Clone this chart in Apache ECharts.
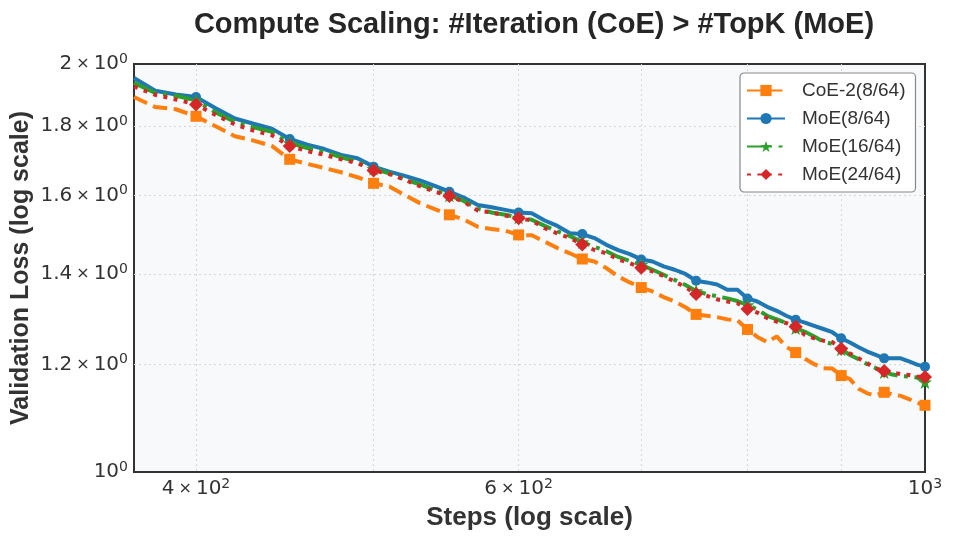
<!DOCTYPE html>
<html>
<head>
<meta charset="utf-8">
<script src="https://cdn.jsdelivr.net/npm/echarts@6.0.0/dist/echarts.min.js"></script>
<style>
html,body{margin:0;padding:0;background:#ffffff;}
#chart{width:953px;height:543px;}
</style>
</head>
<body>
<div id="chart"></div>
<script>
const steps = [370,380,390,400,410,420,430,440,450,460,470,480,490,500,510,520,530,540,550,560,570,580,590,600,610,620,630,640,650,660,670,680,690,700,710,720,730,740,750,760,770,780,790,800,810,820,830,840,850,860,870,880,890,900,910,920,930,940,950,960,970,980,990,1000];

const coe2 = [1.891,1.859,1.852,1.830,1.799,1.769,1.756,1.740,1.701,1.688,1.676,1.664,1.650,1.633,1.624,1.601,1.579,1.563,1.548,1.536,1.517,1.511,1.507,1.496,1.495,1.479,1.463,1.450,1.436,1.430,1.414,1.394,1.380,1.368,1.359,1.346,1.336,1.323,1.307,1.304,1.301,1.296,1.294,1.274,1.258,1.247,1.259,1.237,1.225,1.212,1.201,1.193,1.192,1.178,1.171,1.152,1.143,1.139,1.145,1.141,1.138,1.132,1.125,1.120];

const moe8 = [1.953,1.911,1.899,1.891,1.855,1.823,1.807,1.792,1.761,1.744,1.731,1.714,1.704,1.680,1.666,1.654,1.641,1.626,1.610,1.594,1.574,1.568,1.561,1.554,1.552,1.533,1.519,1.500,1.498,1.488,1.471,1.458,1.448,1.435,1.430,1.418,1.410,1.400,1.384,1.380,1.375,1.363,1.363,1.343,1.336,1.324,1.315,1.304,1.295,1.289,1.282,1.275,1.268,1.255,1.246,1.236,1.227,1.220,1.213,1.213,1.213,1.207,1.200,1.196];

const moe16 = [1.937,1.904,1.895,1.880,1.842,1.813,1.796,1.782,1.749,1.734,1.723,1.707,1.694,1.674,1.661,1.644,1.630,1.615,1.600,1.585,1.564,1.554,1.548,1.541,1.535,1.519,1.505,1.493,1.478,1.466,1.455,1.441,1.431,1.422,1.410,1.398,1.386,1.374,1.360,1.353,1.348,1.343,1.337,1.328,1.318,1.304,1.296,1.288,1.277,1.269,1.259,1.248,1.243,1.232,1.220,1.211,1.201,1.193,1.185,1.180,1.177,1.176,1.174,1.165];

const moe24 = [1.925,1.898,1.883,1.867,1.834,1.805,1.786,1.772,1.740,1.725,1.714,1.701,1.690,1.669,1.659,1.643,1.625,1.610,1.598,1.583,1.559,1.554,1.546,1.539,1.533,1.513,1.500,1.488,1.472,1.458,1.450,1.435,1.426,1.415,1.406,1.395,1.382,1.369,1.353,1.349,1.341,1.336,1.332,1.319,1.311,1.299,1.291,1.288,1.280,1.262,1.255,1.250,1.247,1.233,1.223,1.213,1.203,1.192,1.187,1.184,1.181,1.179,1.176,1.175];

const seriesNames = ['CoE-2(8/64)','MoE(8/64)','MoE(16/64)','MoE(24/64)'];
const xLabelTicks = [400, 600, 1000];
const xGridTicks = [400, 500, 600, 700, 800, 900];
const yLabelTicks = [1, 1.2, 1.4, 1.6, 1.8, 2];
const yGridTicks = [1.2, 1.4, 1.6, 1.8];
const markerEvery = 50;

const FONT = 'Liberation Sans, Arial, sans-serif';
const MATHFONT = 'DejaVu Sans, sans-serif';
const STAR = 'path://M0,-10L2.35,-3.24L9.51,-3.09L3.8,1.24L5.88,8.09L0,4L-5.88,8.09L-3.8,1.24L-9.51,-3.09L-2.35,-3.24Z';

function sciLabel(v) {
  const e = Math.floor(Math.log10(v) + 1e-9);
  const m = Math.round(v / Math.pow(10, e) * 100) / 100;
  if (Math.abs(m - 1) < 1e-9) return '{m|10}{s|' + e + '}';
  return '{m|' + m + '}{x|×}{m|10}{s|' + e + '}';
}
const richTick = {
  m: {fontSize: 20, fontFamily: MATHFONT, color: '#333', lineHeight: 24},
  x: {fontSize: 16, fontFamily: MATHFONT, color: '#333', lineHeight: 24, padding: [0, 4, 0, 4]},
  s: {fontSize: 14, fontFamily: MATHFONT, color: '#333', lineHeight: 12, verticalAlign: 'top'}
};

function pairs(arr) { return steps.map((s, i) => [s, arr[i]]); }
function mk(name, arr, color, lineType, symbol, size) {
  return {
    name: name, type: 'line', data: pairs(arr),
    symbol: symbol,
    symbolSize: function (v) { return (v[0] % markerEvery === 0) ? size : 0; },
    showAllSymbol: true,
    clip: true,
    lineStyle: {color: color, width: 4, type: lineType, cap: 'butt'},
    itemStyle: {color: color, borderWidth: 0},
    emphasis: {disabled: true},
    animation: false
  };
}

const chart = echarts.init(document.getElementById('chart'), null, {renderer: 'canvas'});
chart.setOption({
  animation: false,
  backgroundColor: '#ffffff',
  title: {
    text: 'Compute Scaling: #Iteration (CoE) > #TopK (MoE)',
    left: 529, top: 5, textAlign: 'center',
    textStyle: {fontFamily: FONT, fontSize: 29, fontWeight: 'bold', color: '#262626'}
  },
  grid: {
    left: 134, right: 28, top: 64, bottom: 71,
    containLabel: false, outerBoundsMode: 'none',
    show: true, backgroundColor: '#f8f9fb', borderColor: '#333', borderWidth: 2
  },
  legend: {
    orient: 'vertical', left: 740, top: 73,
    data: seriesNames,
    itemWidth: 38, itemHeight: 14, itemGap: 9,
    padding: [8, 10, 8, 6],
    backgroundColor: '#ffffff', borderColor: '#888', borderWidth: 1.2, borderRadius: 4,
    textStyle: {fontFamily: FONT, fontSize: 19, color: '#333', padding: [0, 0, 0, 12]}
  },
  xAxis: {
    type: 'log', logBase: 10, min: 370, max: 1000,
    name: 'Steps (log scale)', nameLocation: 'middle', nameGap: 33, nameMoveOverlap: false,
    nameTextStyle: {fontFamily: FONT, fontSize: 26, fontWeight: 'bold', color: '#333'},
    axisLine: {show: false},
    axisTick: {show: false, customValues: xGridTicks},
    axisLabel: {customValues: xLabelTicks, formatter: sciLabel, rich: richTick, margin: 5},
    splitLine: {show: true, lineStyle: {color: '#d6d6d6', width: 1, type: [2, 3]}},
    minorTick: {show: false}
  },
  yAxis: {
    type: 'log', logBase: 10, min: 1, max: 2,
    name: 'Validation Loss (log scale)', nameLocation: 'middle', nameGap: 100, nameMoveOverlap: false,
    nameTextStyle: {fontFamily: FONT, fontSize: 25, fontWeight: 'bold', color: '#333'},
    axisLine: {show: false},
    axisTick: {show: false, customValues: yGridTicks},
    axisLabel: {customValues: yLabelTicks, formatter: sciLabel, rich: richTick, margin: 6},
    splitLine: {show: true, lineStyle: {color: '#d6d6d6', width: 1, type: [2, 3]}}
  },
  series: [
    mk(seriesNames[0], coe2, '#ff7f0e', [14.5, 6.5], 'rect', 11),
    mk(seriesNames[1], moe8, '#1f77b4', 'solid', 'circle', 10),
    mk(seriesNames[2], moe16, '#2ca02c', [25, 6.5, 4, 6.5], STAR, 14),
    mk(seriesNames[3], moe24, '#d62728', [4, 6.4], 'diamond', 14)
  ]
});
</script>
</body>
</html>
